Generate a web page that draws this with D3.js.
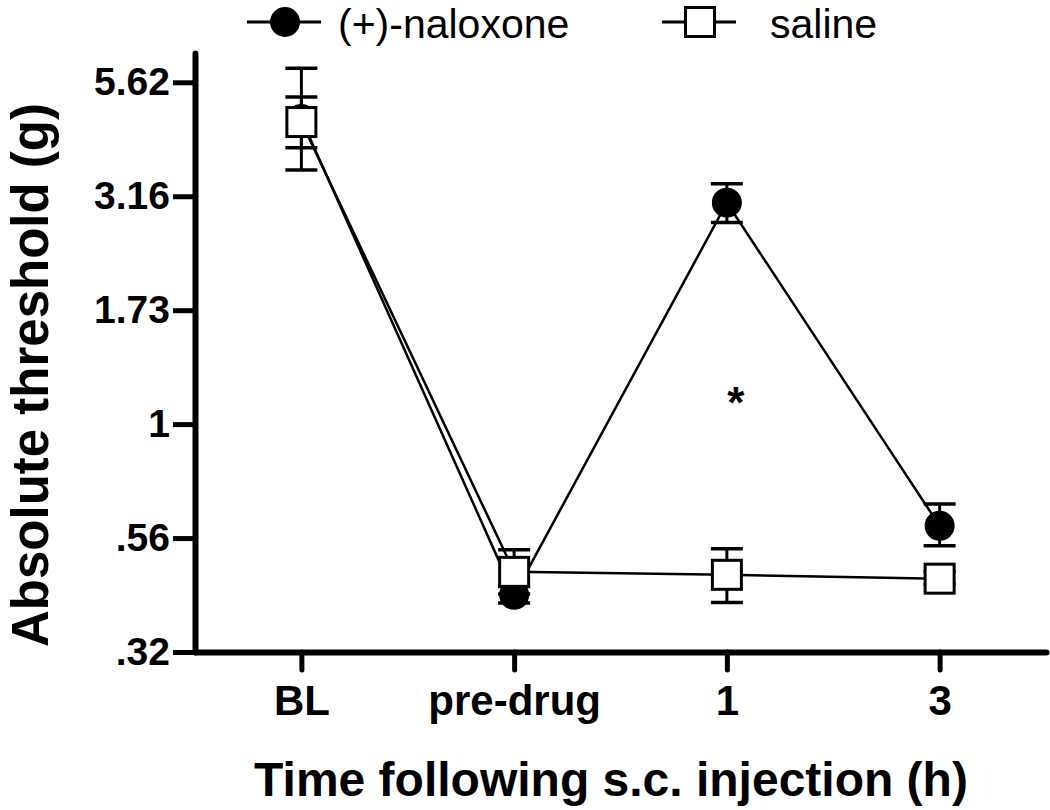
<!DOCTYPE html>
<html><head><meta charset="utf-8">
<script src="https://cdn.jsdelivr.net/npm/d3@7"></script>
<style>body{margin:0;background:#fff} svg{display:block}</style>
</head><body>
<script>
// ---- data ----
const categories = ["BL", "pre-drug", "1", "3"];
const seriesNames = ["(+)-naloxone", "saline"];
const naloxoneMean  = [4.67, 0.422, 3.06, 0.598];
const naloxoneUpper = [6.04, 0.440, 3.37, 0.668];
const naloxoneLower = [3.61, 0.405, 2.77, 0.541];
const salineMean  = [4.60, 0.474, 0.467, 0.458];
const salineUpper = [5.22, 0.530, 0.533, 0.475];
const salineLower = [4.04, 0.424, 0.406, 0.445];
const yTickValues = [0.3162, 0.5623, 1, 1.778, 3.162, 5.623];
const yTickLabels = [".32", ".56", "1", "1.73", "3.16", "5.62"];
const yDomain = [0.3162, 6.52];
const significance = [{cat: "1", value: 1.17, label: "*"}];

const W = 1050, H = 810;
const svg = d3.select("body").append("svg").attr("width", W).attr("height", H);

const x = d3.scalePoint().domain(categories).range([195, 1046]).padding(0.5).align(0.5);
const y = d3.scaleLog().domain(yDomain).range([652, 53]);

const FONT = "'Liberation Sans', Arial, Helvetica, sans-serif";

// axes
const yAxis = svg.append("g").attr("transform", "translate(195,0)")
  .call(d3.axisLeft(y).tickValues(yTickValues).tickFormat((d, i) => yTickLabels[i])
        .tickSize(22).tickSizeOuter(0).tickPadding(3));
yAxis.select(".domain").attr("stroke-width", 6).attr("stroke-linecap", "round");
yAxis.selectAll(".tick line").attr("stroke-width", 5);
yAxis.selectAll(".tick text").attr("font-family", FONT).attr("font-weight", "bold")
  .attr("font-size", 39).attr("fill", "#000");

const xAxis = svg.append("g").attr("transform", "translate(0,652)")
  .call(d3.axisBottom(x).tickSize(18).tickSizeOuter(0).tickPadding(15));
xAxis.select(".domain").attr("stroke-width", 6).attr("stroke-linecap", "round");
xAxis.selectAll(".tick line").attr("stroke-width", 5).attr("stroke-linecap", "round");
xAxis.selectAll(".tick text").attr("font-family", FONT).attr("font-weight", "bold")
  .attr("font-size", 42).attr("fill", "#000");

// axis titles
svg.append("text").attr("x", 611).attr("y", 796).attr("text-anchor", "middle")
  .attr("font-family", FONT).attr("font-weight", "bold").attr("font-size", 48)
  .text("Time following s.c. injection (h)");
svg.append("text").attr("transform", "translate(48,375) rotate(-90)").attr("text-anchor", "middle")
  .attr("font-family", FONT).attr("font-weight", "bold").attr("font-size", 51)
  .text("Absolute threshold (g)");

const series = [
  {name: seriesNames[0], mean: naloxoneMean, up: naloxoneUpper, lo: naloxoneLower, shape: "circle"},
  {name: seriesNames[1], mean: salineMean, up: salineUpper, lo: salineLower, shape: "square"}
];

const line = d3.line().x((d, i) => x(categories[i])).y(d => y(d));
const capW = 16;

function drawMarker(g, shape, cx, cy) {
  if (shape === "circle") {
    g.append("circle").attr("cx", cx).attr("cy", cy).attr("r", 15).attr("fill", "#000");
  } else {
    g.append("rect").attr("x", cx - 14.5).attr("y", cy - 14.5).attr("width", 29).attr("height", 29)
      .attr("fill", "#fff").attr("stroke", "#000").attr("stroke-width", 3);
  }
}

series.forEach(s => {
  const g = svg.append("g");
  g.append("path").datum(s.mean).attr("d", line).attr("fill", "none")
    .attr("stroke", "#000").attr("stroke-width", 2.5);
  categories.forEach((c, i) => {
    const cx = x(c);
    g.append("line").attr("x1", cx).attr("x2", cx).attr("y1", y(s.lo[i])).attr("y2", y(s.up[i]))
      .attr("stroke", "#000").attr("stroke-width", 3);
    [s.lo[i], s.up[i]].forEach(v => {
      g.append("line").attr("x1", cx - capW).attr("x2", cx + capW).attr("y1", y(v)).attr("y2", y(v))
        .attr("stroke", "#000").attr("stroke-width", 3.5);
    });
  });
  categories.forEach((c, i) => drawMarker(g, s.shape, x(c), y(s.mean[i])));
});

// significance marker
significance.forEach(m => {
  svg.append("text").attr("x", x(m.cat) + 9).attr("y", y(m.value) + 25).attr("text-anchor", "middle")
    .attr("font-family", FONT).attr("font-weight", "bold").attr("font-size", 44).text(m.label);
});

// legend
const legendItems = [
  {name: seriesNames[0], shape: "circle", mx: 285, tx: 338},
  {name: seriesNames[1], shape: "square", mx: 700, tx: 770}
];
legendItems.forEach(it => {
  const g = svg.append("g");
  g.append("line").attr("x1", it.mx - 38).attr("x2", it.mx + 36).attr("y1", 22).attr("y2", 22)
    .attr("stroke", "#000").attr("stroke-width", 3);
  drawMarker(g, it.shape, it.mx, 22);
  g.append("text").attr("x", it.tx).attr("y", 38).attr("font-family", FONT)
    .attr("font-size", 41).text(it.name);
});
</script>
</body></html>
